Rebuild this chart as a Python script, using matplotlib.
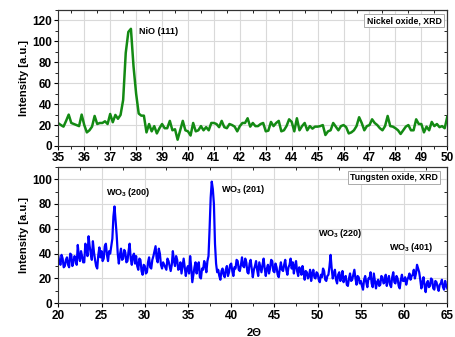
import numpy as np
import matplotlib
matplotlib.use("Agg")
import matplotlib.pyplot as plt
from matplotlib.ticker import MultipleLocator

plt.rcParams['font.family'] = ['Liberation Sans', 'DejaVu Sans']
plt.rcParams['font.weight'] = 'bold'
plt.rcParams['mathtext.fontset'] = 'custom'
plt.rcParams['mathtext.bf'] = 'Liberation Sans:bold'
plt.rcParams['mathtext.rm'] = 'Liberation Sans:bold'

# ---- Nickel oxide XRD (2theta 35..50, step 0.1) ----
nio_start, nio_step = 35.0, 0.1
nio_intensity = [
    21.7, 20, 18.5, 24, 30, 22, 21, 20, 19, 30,
    20, 13, 15, 18.5, 28.7, 21, 22, 22, 23.6, 21,
    30.6, 22.7, 29.7, 26, 29.7, 44, 89, 109, 112, 76,
    50, 31, 29, 29, 13, 21, 14, 19, 12, 17,
    21, 17, 17, 24, 15, 16, 6, 15, 24, 15,
    14, 10, 22, 14, 15, 19, 15, 18, 15, 22,
    22, 21, 18, 24, 18, 17, 21, 20, 18.5, 14,
    19, 22, 22, 26.5, 18.5, 22, 19, 19, 21, 22,
    14, 14.7, 23, 19, 22, 24, 14, 15, 19, 25.5,
    23, 14, 26.5, 15, 19, 22, 15, 19, 16.6, 18.5,
    18.5, 19, 20, 10.5, 14, 15, 22, 18.5, 15, 19,
    20, 18, 12, 13, 15, 19, 27.5, 22, 15, 19,
    20, 25.5, 22, 20, 17, 15, 19, 28.7, 19, 18.5,
    17, 15, 11.5, 15, 18.5, 20, 15, 15, 25.5, 21,
    21, 13, 18.5, 15, 23, 19, 21, 18, 19, 17,
    28,
]

# ---- Tungsten oxide XRD (2theta 20..65, step 0.125) ----
wo_start, wo_step = 20.0, 0.125
wo_intensity = [
    38, 33, 31, 39, 36, 29, 30, 35,
    37, 31, 29, 40, 39, 30, 33, 38,
    36, 31, 47, 38, 34, 42, 38, 33,
    33, 48, 44, 38, 54, 46, 40, 35,
    50, 41, 35, 30, 28, 39, 45, 37,
    42, 34, 36, 46, 48, 39, 34, 42,
    40, 46, 52, 70, 78, 66, 55, 40,
    32, 39, 44, 35, 36, 43, 41, 33,
    34, 42, 48, 36, 31, 38, 40, 32,
    38, 30, 27, 36, 35, 26, 23, 31,
    30, 24, 25, 33, 37, 29, 28, 35,
    38, 42, 46, 36, 33, 44, 40, 31,
    28, 33, 31, 29, 27, 36, 34, 30,
    26, 31, 42, 34, 30, 38, 35, 27,
    28, 33, 24, 30, 36, 29, 22, 28,
    30, 24, 38, 29, 17, 23, 29, 33,
    24, 30, 33, 21, 20, 28, 27, 34,
    31, 25, 34, 38, 60, 85, 98, 92,
    80, 48, 32, 25, 27, 22, 19, 26,
    28, 23, 21, 27, 30, 22, 25, 31,
    32, 26, 22, 29, 28, 35, 34, 27,
    26, 31, 37, 30, 29, 36, 33, 25,
    24, 32, 35, 28, 21, 27, 30, 34,
    27, 22, 33, 29, 25, 31, 36, 28,
    22, 28, 31, 24, 28, 35, 34, 26,
    25, 32, 29, 23, 21, 28, 33, 27,
    26, 31, 35, 27, 23, 29, 31, 36,
    28, 33, 24, 30, 34, 26, 22, 29,
    27, 23, 30, 25, 19, 26, 25, 20,
    22, 27, 18, 24, 27, 21, 20, 25,
    24, 19, 17, 23, 21, 28, 26, 19,
    18, 22, 23, 30, 39, 28, 20, 24,
    27, 19, 16, 23, 25, 18, 21, 26,
    17, 21, 22, 15, 14, 20, 24, 18,
    19, 23, 27, 20, 15, 22, 21, 16,
    18, 14, 11, 19, 22, 17, 13, 20,
    20, 25, 16, 13, 24, 18, 12, 17,
    19, 14, 15, 22, 21, 16, 17, 23,
    14, 19, 22, 15, 13, 21, 25, 17,
    16, 22, 20, 14, 12, 19, 23, 18,
    18, 21, 15, 19, 21, 24, 19, 22,
    23, 27, 20, 24, 31, 28, 25, 19,
    12, 17, 21, 14, 9, 16, 18, 13,
    14, 20, 19, 12, 11, 18, 17, 13,
    10, 15, 16, 19, 13, 11, 18, 14,
    12,
]

nio_x = nio_start + nio_step * np.arange(len(nio_intensity))
wo_x = wo_start + wo_step * np.arange(len(wo_intensity))

fig = plt.figure(figsize=(4.56, 3.37), dpi=100)
ax1 = fig.add_axes([0.1279, 0.5668, 0.853, 0.4036])
ax2 = fig.add_axes([0.1279, 0.100, 0.853, 0.4053])

grid_c = '#d9d9d9'
fs_tick = 8.5

def style(ax, xlim, ylim, xmaj, xmin, ymaj, ymin):
    ax.set_xlim(*xlim)
    ax.set_ylim(*ylim)
    ax.xaxis.set_major_locator(MultipleLocator(xmaj))
    ax.xaxis.set_minor_locator(MultipleLocator(xmin))
    ax.yaxis.set_major_locator(MultipleLocator(ymaj))
    ax.yaxis.set_minor_locator(MultipleLocator(ymin))
    ax.grid(True, which='major', color=grid_c, lw=0.8)
    ax.set_axisbelow(True)
    ax.tick_params(which='major', direction='out', length=3, width=0.8,
                   labelsize=fs_tick, pad=1.5)
    ax.tick_params(which='minor', direction='out', length=2, width=0.6)
    for s in ax.spines.values():
        s.set_linewidth(0.8)
        s.set_color('#333333')
    for lab in ax.get_xticklabels() + ax.get_yticklabels():
        lab.set_fontweight('bold')
    sx = ax.secondary_xaxis('top')
    sx.xaxis.set_major_locator(MultipleLocator(xmaj))
    sx.xaxis.set_minor_locator(MultipleLocator(xmin))
    sx.tick_params(which='both', direction='in', labeltop=False, length=2.5, width=0.6)
    sy = ax.secondary_yaxis('right')
    sy.yaxis.set_major_locator(MultipleLocator(ymaj))
    sy.yaxis.set_minor_locator(MultipleLocator(ymin))
    sy.tick_params(which='both', direction='in', labelright=False, length=2.5, width=0.6)
    ax.set_ylabel('Intensity [a.u.]', fontsize=8, fontweight='bold', labelpad=2)

ax1.plot(nio_x, nio_intensity, color='#138a13', lw=1.8)
style(ax1, (35, 50), (0, 130), 1, 0.5, 20, 10)
ax1.text(38.1, 109, 'NiO (111)', fontsize=6.5, fontweight='bold', va='center')
ax1.text(0.985, 0.955, 'Nickel oxide, XRD', transform=ax1.transAxes, ha='right', va='top',
         fontsize=6.3, fontweight='bold',
         bbox=dict(boxstyle='square,pad=0.25', fc='white', ec='#aaaaaa', lw=0.7))

ax2.plot(wo_x, wo_intensity, color='#0000ff', lw=1.6)
style(ax2, (20, 65), (0, 110), 5, 2.5, 20, 10)
ax2.text(25.5, 89, r'WO$_\mathbf{3}$ (200)', fontsize=6.5, fontweight='bold', va='center')
ax2.text(38.8, 92, r'WO$_\mathbf{3}$ (201)', fontsize=6.5, fontweight='bold', va='center')
ax2.text(50.0, 56, r'WO$_\mathbf{3}$ (220)', fontsize=6.5, fontweight='bold', va='center')
ax2.text(58.3, 45, r'WO$_\mathbf{3}$ (401)', fontsize=6.5, fontweight='bold', va='center')
ax2.text(0.975, 0.955, 'Tungsten oxide, XRD', transform=ax2.transAxes, ha='right', va='top',
         fontsize=6.3, fontweight='bold',
         bbox=dict(boxstyle='square,pad=0.25', fc='white', ec='#aaaaaa', lw=0.7))

fig.text(0.558, 0.012, '2Θ', ha='center', va='center', fontsize=8, fontweight='bold')

fig.savefig('out.png', dpi=100)
